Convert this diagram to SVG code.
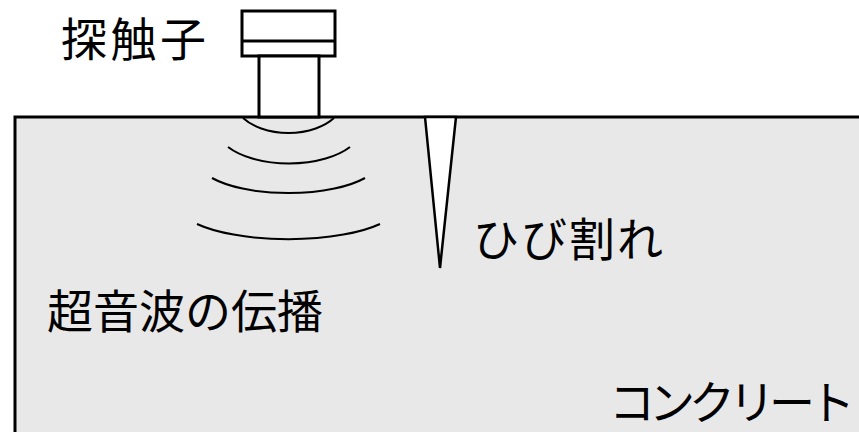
<svg xmlns="http://www.w3.org/2000/svg" width="859" height="432" viewBox="0 0 859 432">
  <style>
    .solid { stroke: #000; stroke-width: 3; }
    .wave { fill: none; stroke: #000; stroke-width: 2; }
    .label { font-family: "Noto Sans CJK JP", "Noto Sans", sans-serif; font-size: 46px; fill: #000; }
  </style>
  <rect width="859" height="432" fill="#fff"/>
  <!-- concrete block, running off the right and bottom edges -->
  <g id="concrete">
    <rect x="15" y="117" width="900" height="400" fill="#e8e8e8" class="solid"/>
    <text class="label" x="609" y="419" letter-spacing="-6">コンクリート</text>
  </g>
  <!-- ultrasonic wavefronts spreading below the probe -->
  <g id="waves">
    <path class="wave" d="M243,118 A55,34 0 0 0 334,118"/>
    <path class="wave" d="M228,147 A73,36.5 0 0 0 350,147"/>
    <path class="wave" d="M212,178 A92,34 0 0 0 365,178"/>
    <path class="wave" d="M197,224 A110,34 0 0 0 380,224"/>
    <text class="label" x="47" y="328">超音波の伝播</text>
  </g>
  <!-- probe -->
  <g id="probe">
    <rect x="242" y="11" width="93" height="45" fill="#fff" class="solid"/>
    <line x1="242" y1="41" x2="335" y2="41" class="solid"/>
    <rect x="259" y="56" width="60" height="61" fill="#fff" class="solid"/>
    <text class="label" x="61" y="56" letter-spacing="3.5">探触子</text>
  </g>
  <!-- crack -->
  <g id="crack">
    <polygon points="425,117 456,117 440,268" fill="#fff" stroke="#000" stroke-width="2.5" stroke-linejoin="miter"/>
    <text class="label" x="473" y="256" letter-spacing="2">ひび割れ</text>
  </g>
</svg>
